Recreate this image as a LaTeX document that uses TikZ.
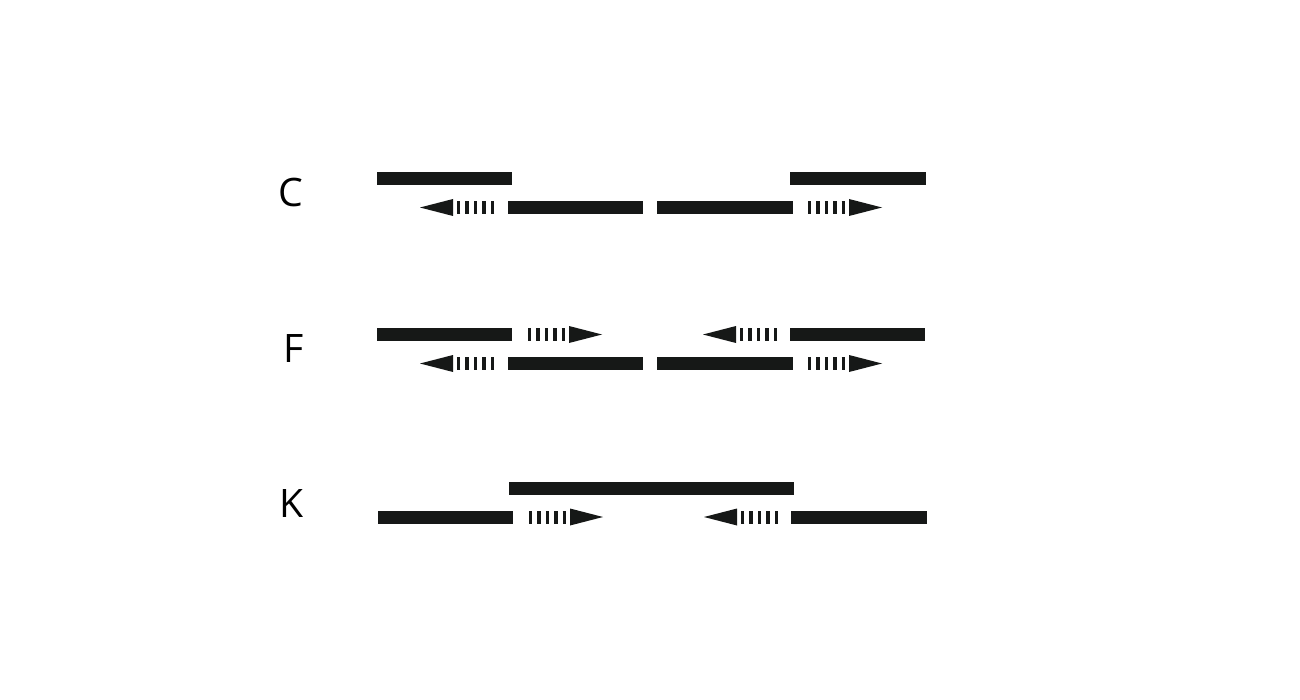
\documentclass[tikz,border=0pt]{standalone}
\usepackage{fontspec}
\newfontfamily\rowfont{Open Sans}
\usepackage{tikz}
\usepackage{xcolor}
\definecolor{strandink}{HTML}{161817}

\begin{document}
\begin{tikzpicture}[x=0.5pt,y=-0.5pt,
  bar/.style={fill=strandink},
  rowlabel/.style={anchor=base east,inner sep=0pt,text=black,font=\rowfont\fontsize{19.6pt}{22pt}\selectfont},
  ticks/.style={draw=strandink,line width=6.5pt,dash pattern=on 1.7pt off 2.5pt},
  rarr/.pic={\draw[ticks] (0,0) -- (41,0); \fill[strandink] (41,-8.5) -- (74,0) -- (41,8.5) -- cycle;},
  larr/.pic={\draw[ticks] (0,0) -- (-41,0); \fill[strandink] (-41,-8.5) -- (-74,0) -- (-41,8.5) -- cycle;}
]
\fill[white] (0,0) rectangle (1300,700);
\useasboundingbox (0,0) rectangle (1300,700);
% row C
\node[rowlabel] (labC) at (304,206.5) {C};
\fill[bar] (377,172) rectangle (512,185); \fill[bar] (790,172) rectangle (926,185);
\fill[bar] (508,201) rectangle (643,214); \fill[bar] (657,201) rectangle (793,214);
\pic at (494,207.5) {larr}; \pic at (808,207.5) {rarr};
% row F
\node[rowlabel] (labF) at (304,362) {F};
\fill[bar] (377,328) rectangle (512,341); \fill[bar] (790,328) rectangle (925,341);
\pic at (528,334.5) {rarr}; \pic at (777,334.5) {larr};
\fill[bar] (508,357) rectangle (643,370); \fill[bar] (657,357) rectangle (793,370);
\pic at (494,363.5) {larr}; \pic at (808,363.5) {rarr};
% row K
\node[rowlabel] (labK) at (304,517) {K};
\fill[bar] (509,482) rectangle (651,495); \fill[bar] (651,482) rectangle (794,495);
\fill[bar] (378,510.5) rectangle (513,523.5); \fill[bar] (791,510.5) rectangle (927,523.5);
\pic at (529,517) {rarr}; \pic at (778,517) {larr};
\end{tikzpicture}
\end{document}
